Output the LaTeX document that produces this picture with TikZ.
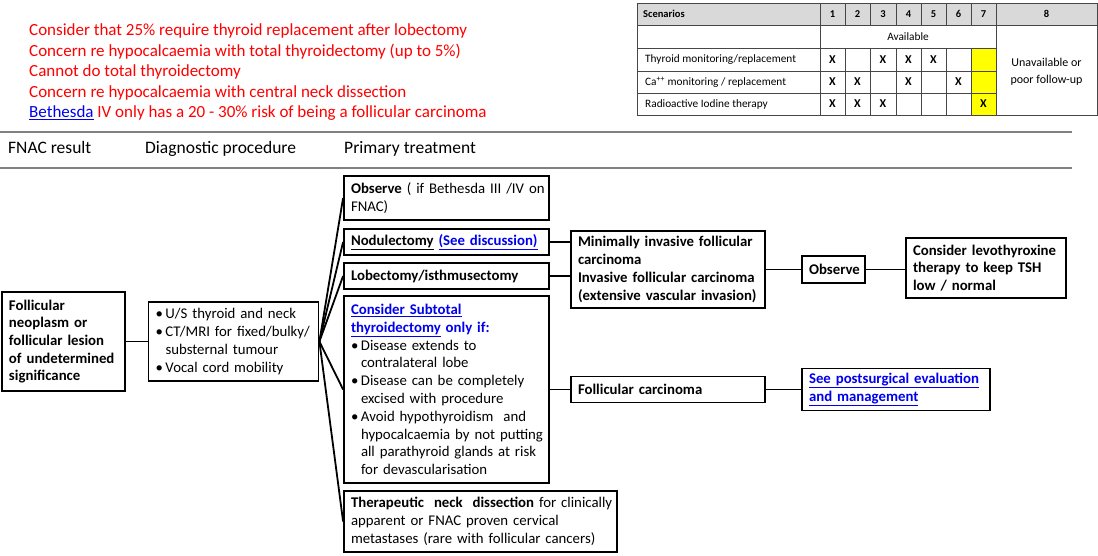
\documentclass[tikz,border=0pt]{standalone}
\usepackage{fontspec}
\setmainfont{Carlito}
\usetikzlibrary{calc}
\definecolor{linkblue}{RGB}{0,0,238}
\definecolor{redtxt}{RGB}{255,0,0}
\definecolor{hdrgray}{RGB}{217,217,217}
\definecolor{rulegray}{RGB}{128,128,128}
\definecolor{cellyellow}{RGB}{255,255,0}
\definecolor{gridgray}{RGB}{70,70,70}
\newcommand{\bul}{\makebox[10pt][l]{\textbullet}}
\newcommand{\ind}{\hspace*{10pt}}
\newcommand{\lnk}[1]{\textcolor{linkblue}{\underline{#1}}}
\newcommand{\tline}[1]{\mbox{#1}}
\begin{document}
\begin{tikzpicture}[x=1pt,y=-1pt,
  box/.style={draw=black, line width=1.8pt, inner xsep=7pt, inner ysep=0pt, align=left,
    font=\fontsize{14.8}{17.8}\selectfont},
  boxb/.style={box, font=\fontsize{14.8}{17.8}\selectfont\bfseries},
  conn/.style={draw=black, line width=1.8pt},
  rule/.style={draw=rulegray, line width=1.8pt},
  grid/.style={draw=gridgray, line width=0.8pt},
  tbl/.style={font=\fontsize{11.3}{13}\selectfont, inner sep=0pt},
  tblb/.style={font=\fontsize{10.5}{12}\selectfont\bfseries, inner sep=0pt},
  xmark/.style={font=\fontsize{12}{13}\selectfont\bfseries, inner sep=0pt},
  hdr/.style={font=\fontsize{17.5}{20}\selectfont, anchor=base west, inner sep=0pt}
]
\useasboundingbox (0,0) rectangle (1098,555);

% ---------- red notes ----------
\node[anchor=west, align=left, inner sep=0pt, text=redtxt,
  font=\fontsize{17}{20.5}\selectfont] (notes) at (29,72.5)
  {Consider that 25\% require thyroid replacement after lobectomy\\
   Concern re hypocalcaemia with total thyroidectomy (up to 5\%)\\
   Cannot do total thyroidectomy\\
   Concern re hypocalcaemia with central neck dissection\\
   \lnk{Bethesda} IV only has a 20 - 30\% risk of being a follicular carcinoma};

% ---------- table ----------
\fill[hdrgray] (637,3) rectangle (1097,25);
\fill[cellyellow] (971,48) rectangle (996,115);
\draw[grid] (637,3) rectangle (1097,115);
\draw[grid] (637,25) -- (1097,25);
\draw[grid] (637,48) -- (996,48);
\draw[grid] (637,71) -- (996,71);
\draw[grid] (637,93) -- (996,93);
\draw[grid] (820,3) -- (820,115);
\draw[grid] (996,3) -- (996,115);
\foreach \xx in {845,870,896,921,946,971} {
  \draw[grid] (\xx,3) -- (\xx,25);
  \draw[grid] (\xx,48) -- (\xx,115);
}
\node[tblb, anchor=west] (scen) at (643,14) {Scenarios};
\foreach \n/\cx in {1/832.5,2/857.5,3/883,4/908.5,5/933.5,6/958.5,7/983.5,8/1046.5}
  \node[tblb] (h\n) at (\cx,14) {\n};
\node[tbl] (avail) at (908,36.5) {Available};
\node[tbl, align=center, font=\fontsize{12}{17}\selectfont] (unav) at (1046.5,72) {Unavailable or\\poor follow-up};
\node[tbl, anchor=west] (r1) at (645,59.5) {Thyroid monitoring/replacement};
\node[tbl, anchor=west] (r2) at (645,82) {Ca\textsuperscript{++} monitoring / replacement};
\node[tbl, anchor=west] (r3) at (645,104) {Radioactive Iodine therapy};
\foreach \cx in {832.5,883,908.5,933.5} \node[xmark] at (\cx,59.5) {X};
\foreach \cx in {832.5,857.5,908.5,958.5} \node[xmark] at (\cx,82) {X};
\foreach \cx in {832.5,857.5,883,983.5} \node[xmark] at (\cx,104) {X};

% ---------- header rules ----------
\draw[rule] (0,132) -- (1072,132);
\draw[rule] (0,168) -- (1072,168);
\node[hdr] (hf) at (8,153) {FNAC result};
\node[hdr] (hd) at (145,153) {Diagnostic procedure};
\node[hdr] (hp) at (344,153) {Primary treatment};

% ---------- boxes ----------
\node[boxb, minimum width=123, minimum height=99, text width=109, font=\fontsize{14.8}{17.6}\selectfont\bfseries] (foll) at (63.5,341.5)
  {\tline{Follicular}\\\tline{neoplasm or}\\\tline{follicular lesion}\\\tline{of undetermined}\\\tline{significance}};
\node[box, minimum width=170, minimum height=79, text width=156] (diag) at (233.5,341.5)
  {\tline{\bul U/S thyroid and neck}\\
   \tline{\bul CT/MRI for fixed/bulky/}\\
   \tline{\ind substernal tumour}\\
   \tline{\bul Vocal cord mobility}};
\node[box, minimum width=205, minimum height=44, text width=191] (obs) at (446.5,198)
  {\tline{\textbf{Observe} ( if Bethesda III /IV on}\\\tline{FNAC)}};
\node[box, minimum width=205, minimum height=26, text width=191] (nod) at (446.5,242)
  {\tline{\underline{\textbf{Nodulectomy}} \lnk{\textbf{(See discussion)}}}};
\node[boxb, minimum width=205, minimum height=26, text width=191] (lob) at (446.5,276)
  {\tline{Lobectomy/isthmusectomy}};
\node[box, minimum width=205, minimum height=187, text width=191] (sub) at (446.5,389.5)
  {\tline{\lnk{\textbf{Consider Subtotal}}}\\
   \tline{\lnk{\textbf{thyroidectomy}}\textcolor{linkblue}{\textbf{ only if:}}}\\
   \tline{\bul Disease extends to}\\
   \tline{\ind contralateral lobe}\\
   \tline{\bul Disease can be completely}\\
   \tline{\ind excised with procedure}\\
   \tline{\bul Avoid hypothyroidism\ \ and}\\
   \tline{\ind hypocalcaemia by not putting}\\
   \tline{\ind all parathyroid glands at risk}\\
   \tline{\ind for devascularisation}};
\node[box, minimum width=273, minimum height=61, text width=259] (ther) at (480.5,521.5)
  {\tline{\textbf{Therapeutic\ \ neck\ \ dissection} for clinically}\\
   \tline{apparent or FNAC proven cervical}\\
   \tline{metastases (rare with follicular cancers)}};
\node[boxb, minimum width=194, minimum height=77, text width=180] (mininv) at (668,269.5)
  {\tline{Minimally invasive follicular}\\\tline{carcinoma}\\\tline{Invasive follicular carcinoma}\\\tline{(extensive vascular invasion)}};
\node[boxb, minimum width=63, minimum height=27, text width=49] (obs2) at (833.5,269.5)
  {\tline{Observe}};
\node[boxb, minimum width=160, minimum height=60, text width=146] (levo) at (986,268)
  {\tline{Consider levothyroxine}\\\tline{therapy to keep TSH}\\\tline{low / normal}};
\node[boxb, minimum width=194, minimum height=26, text width=180] (fc) at (668,389.5)
  {\tline{Follicular carcinoma}};
\node[boxb, minimum width=188, minimum height=42, text width=174] (post) at (896,389.5)
  {\tline{\lnk{See postsurgical evaluation}}\\\tline{\lnk{and management}}};

% ---------- connectors ----------
\draw[conn] (foll.east) -- (diag.east -| diag.west);
\foreach \t in {obs,nod,lob,sub,ther}
  \draw[conn] (diag.east) -- (\t.west);
\draw[conn] (nod.east) -- (nod.east -| mininv.west);
\draw[conn] (lob.east) -- (lob.east -| mininv.west);
\draw[conn] (sub.east) -- (fc.west);
\draw[conn] (mininv.east) -- (obs2.west);
\draw[conn] (obs2.east) -- (obs2.east -| levo.west);
\draw[conn] (fc.east) -- (post.west);
\end{tikzpicture}
\end{document}
